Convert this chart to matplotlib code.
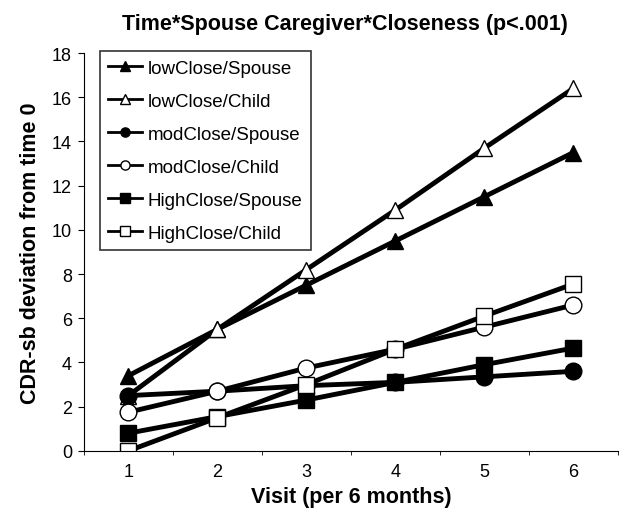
import matplotlib.pyplot as plt

visits = [1, 2, 3, 4, 5, 6]
low_spouse = [3.4, 5.5, 7.5, 9.5, 11.5, 13.5]
low_child = [2.5, 5.5, 8.2, 10.9, 13.7, 16.4]
mod_spouse = [2.5, 2.7, 2.95, 3.1, 3.35, 3.6]
mod_child = [1.75, 2.7, 3.75, 4.6, 5.6, 6.6]
high_spouse = [0.8, 1.55, 2.3, 3.1, 3.9, 4.65]
high_child = [0.0, 1.5, 3.0, 4.6, 6.1, 7.55]

series = [
    ('lowClose/Spouse', low_spouse, '^', 'black'),
    ('lowClose/Child', low_child, '^', 'white'),
    ('modClose/Spouse', mod_spouse, 'o', 'black'),
    ('modClose/Child', mod_child, 'o', 'white'),
    ('HighClose/Spouse', high_spouse, 's', 'black'),
    ('HighClose/Child', high_child, 's', 'white'),
]

plt.rcParams['font.family'] = ['Liberation Sans', 'DejaVu Sans']

fig = plt.figure(figsize=(6.26, 5.1), dpi=100)
ax = fig.add_axes([0.134, 0.114, 0.853, 0.78])

for name, vals, mk, fc in series:
    ax.plot(visits, vals, color='black', linewidth=3.5, marker=mk, markersize=12,
            markerfacecolor=fc, markeredgecolor='black', markeredgewidth=1,
            label=name)

ax.set_xlim(0.5, 6.5)
ax.set_ylim(0, 18)
ax.set_yticks(range(0, 19, 2))
ax.set_xticks(visits)
ax.set_xticks([0.5 + i for i in range(7)], minor=True)
ax.tick_params(axis='x', which='major', length=0, labelsize=13, pad=9)
ax.tick_params(axis='x', which='minor', length=3, direction='out')
ax.tick_params(axis='y', length=4, direction='out', labelsize=13, pad=4.5)
for s in ['top', 'right']:
    ax.spines[s].set_visible(False)

ax.set_title('Time*Spouse Caregiver*Closeness (p<.001)', fontsize=15.5,
             fontweight='bold', pad=17, x=0.489)
ax.set_xlabel('Visit (per 6 months)', fontsize=15.5, fontweight='bold',
              labelpad=4)
ax.set_ylabel('CDR-sb deviation from time 0', fontsize=15.5, fontweight='bold',
              labelpad=8)

leg = ax.legend(loc='upper left', bbox_to_anchor=(0.03, 1.005), fontsize=13.5,
                frameon=True, fancybox=False, edgecolor='black',
                handlelength=1.8, handletextpad=0.3, markerscale=0.55,
                labelspacing=0.85, borderpad=0.45, borderaxespad=0)
leg.get_frame().set_linewidth(1.2)
for h in leg.legend_handles:
    h.set_linewidth(2)

fig.savefig('out.png', dpi=100)
